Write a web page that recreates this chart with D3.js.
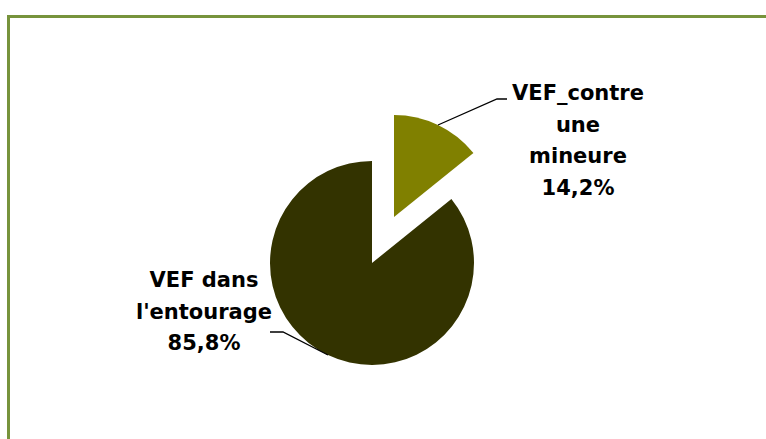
<!DOCTYPE html>
<html>
<head>
<meta charset="utf-8">
<script src="https://cdn.jsdelivr.net/npm/d3@7"></script>
<style>
  body { margin: 0; background: #fff; }
  svg { display: block; }
  .label { font-family: "DejaVu Sans", sans-serif; font-weight: bold; font-size: 21px; fill: #000; }
</style>
</head>
<body>
<script>
// data
const categories = ["VEF_contre une mineure", "VEF dans l'entourage"];
const values = [14.2, 85.8];
const labelLines = [["VEF_contre", "une", "mineure", "14,2%"], ["VEF dans", "l'entourage", "85,8%"]];
const colors = ["#808000", "#333300"];

const width = 766, height = 439;
const cx = 372, cy = 263, radius = 102, explode = 51;

const svg = d3.select("body").append("svg")
    .attr("width", width)
    .attr("height", height);

// frame (only top and left edges are in view)
svg.append("rect")
    .attr("x", 8.5).attr("y", 16.5)
    .attr("width", 900).attr("height", 600)
    .attr("fill", "none")
    .attr("stroke", "#77933c")
    .attr("stroke-width", 3);

const pie = d3.pie().sort(null).value(d => d);
const arcs = pie(values);
const arc = d3.arc().innerRadius(0).outerRadius(radius);

const g = svg.append("g").attr("transform", `translate(${cx},${cy})`);

// offset of each slice (only the first one is pulled out)
const offset = (d, i) => {
    let a = (d.startAngle + d.endAngle) / 2;
    let k = i === 0 ? explode : 0;
    return [Math.sin(a) * k, -Math.cos(a) * k];
};

g.selectAll("path.slice")
    .data(arcs)
    .join("path")
    .attr("class", "slice")
    .attr("transform", (d, i) => `translate(${offset(d, i)})`)
    .attr("d", arc)
    .attr("fill", (d, i) => colors[i]);

// leader lines and labels
const labelPos = [
    {elbow: [497, 99], end: [507, 99], x: 578, y: 100},
    {elbow: [283, 332], end: [270, 332], x: 204, y: 287}
];

arcs.forEach((d, i) => {
    let a = (d.startAngle + d.endAngle) / 2;
    let o = offset(d, i);
    let sx = cx + o[0] + Math.sin(a) * radius;
    let sy = cy + o[1] - Math.cos(a) * radius;
    let p = labelPos[i];

    svg.append("path")
        .attr("d", d3.line()([[sx, sy], p.elbow, p.end]))
        .attr("fill", "none")
        .attr("stroke", "#000")
        .attr("stroke-width", 1.3);

    svg.append("text")
        .attr("class", "label")
        .attr("text-anchor", "middle")
        .selectAll("tspan")
        .data(labelLines[i])
        .join("tspan")
        .attr("x", p.x)
        .attr("y", (t, j) => p.y + j * 31.5)
        .text(t => t);
});
</script>
</body>
</html>
